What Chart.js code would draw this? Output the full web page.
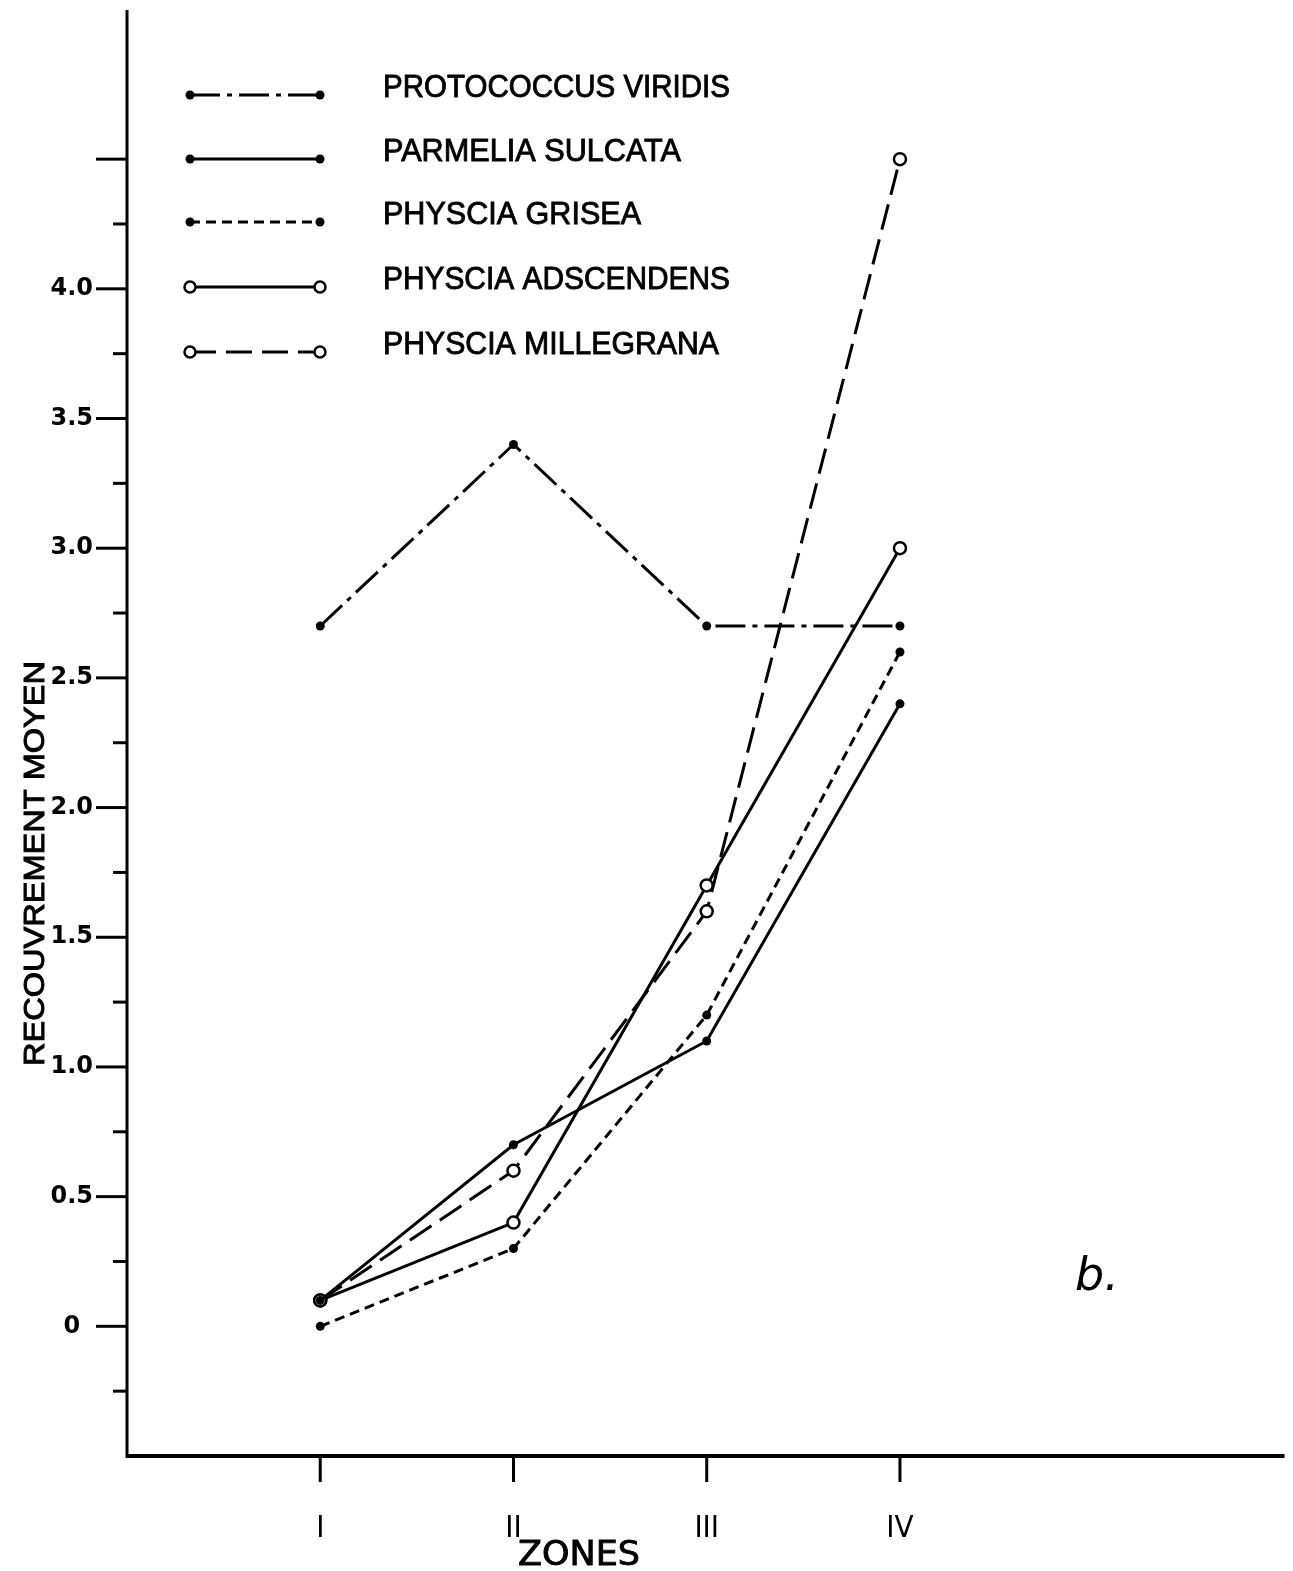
<!DOCTYPE html>
<html>
<head>
<meta charset="utf-8">
<script src="https://cdn.jsdelivr.net/npm/chart.js@4.4.0/dist/chart.umd.min.js"></script>
<style>
  html, body { margin: 0; padding: 0; background: #fff; }
  #wrap { width: 1293px; height: 1571px; position: relative; }
</style>
</head>
<body>
<div id="wrap"><canvas id="chart" width="1293" height="1571"></canvas></div>
<script>
// --- data ---
const zones = ['I', 'II', 'III', 'IV'];
const zonePos = [1, 2, 3, 4];
const protococcusViridis = [2.7, 3.4, 2.7, 2.7];
const parmeliaSulcata = [0.1, 0.7, 1.1, 2.4];
const physciaGrisea = [0.0, 0.3, 1.2, 2.6];
const physciaAdscendens = [0.1, 0.4, 1.7, 3.0];
const physciaMillegrana = [0.1, 0.6, 1.6, 4.5];
const seriesNames = ['PROTOCOCCUS VIRIDIS', 'PARMELIA SULCATA', 'PHYSCIA GRISEA', 'PHYSCIA ADSCENDENS', 'PHYSCIA MILLEGRANA'];
const yLabelValues = [0, 0.5, 1.0, 1.5, 2.0, 2.5, 3.0, 3.5, 4.0];
const yLabelText = ['0', '0.5', '1.0', '1.5', '2.0', '2.5', '3.0', '3.5', '4.0'];
const yTickMarks = [-0.25, 0, 0.25, 0.5, 0.75, 1, 1.25, 1.5, 1.75, 2, 2.25, 2.5, 2.75, 3, 3.25, 3.5, 3.75, 4, 4.25, 4.5];

// --- styles ---
const styles = [
  { dash: [30, 7, 5, 7], open: false },
  { dash: [], open: false },
  { dash: [10, 6], open: false },
  { dash: [], open: true },
  { dash: [26, 10], open: true }
];
const seriesValues = [protococcusViridis, parmeliaSulcata, physciaGrisea, physciaAdscendens, physciaMillegrana];

const makeDataset = (name, values, st) => ({
  label: name,
  data: zonePos.map((x, i) => ({ x, y: values[i] })),
  borderColor: '#000',
  borderWidth: 3,
  borderDash: st.dash,
  tension: 0,
  fill: false,
  pointStyle: 'circle',
  pointRadius: st.open ? 6 : 4.5,
  pointBorderWidth: st.open ? 2.5 : 0,
  pointBackgroundColor: st.open ? '#fff' : '#000',
  pointBorderColor: '#000'
});

const line = (ctx, x1, y1, x2, y2) => {
  ctx.beginPath(); ctx.moveTo(x1, y1); ctx.lineTo(x2, y2); ctx.stroke();
};

// text squeezed/stretched to the width it has in the figure, slightly thickened
const fitText = (ctx, text, x, y, width, thick) => {
  const w = ctx.measureText(text).width;
  ctx.save();
  ctx.translate(x, y);
  ctx.scale(width / w, 1);
  ctx.fillText(text, 0, 0);
  if (thick) {
    ctx.lineWidth = thick;
    ctx.setLineDash([]);
    ctx.strokeText(text, 0, 0);
  }
  ctx.restore();
};

const legendTextWidths = [347, 298, 258, 347, 336];
const legendRows = [95, 159, 222, 287, 352];

const decorPlugin = {
  id: 'decor',
  afterDraw(chart) {
    const { ctx, chartArea: { left, right, top, bottom }, scales: { x, y } } = chart;
    ctx.save();
    ctx.strokeStyle = '#000';
    ctx.fillStyle = '#000';
    ctx.setLineDash([]);

    // axes
    ctx.lineWidth = 3;
    line(ctx, left, top, left, bottom + 2);
    ctx.lineWidth = 4;
    line(ctx, left - 1, bottom, right, bottom);

    // y tick marks, long ones every 0.5
    ctx.lineWidth = 3;
    yTickMarks.forEach(v => {
      const py = y.getPixelForValue(v);
      const major = Math.abs(v * 2 - Math.round(v * 2)) < 1e-6;
      line(ctx, left - (major ? 31 : 14), py, left, py);
    });
    // x tick marks below the axis
    zonePos.forEach(v => {
      const px = x.getPixelForValue(v);
      line(ctx, px, bottom, px, bottom + 26);
    });

    // legend
    seriesNames.forEach((name, i) => {
      const st = styles[i];
      const ly = legendRows[i];
      ctx.lineWidth = 3;
      ctx.setLineDash(st.dash);
      line(ctx, 190, ly, 320, ly);
      ctx.setLineDash([]);
      [190, 320].forEach(px => {
        ctx.beginPath();
        if (st.open) {
          ctx.arc(px, ly, 5.5, 0, Math.PI * 2);
          ctx.fillStyle = '#fff'; ctx.fill();
          ctx.lineWidth = 2.5; ctx.stroke();
        } else {
          ctx.arc(px, ly, 4.5, 0, Math.PI * 2);
          ctx.fillStyle = '#000'; ctx.fill();
        }
      });
      ctx.fillStyle = '#000';
      ctx.font = '32px "Liberation Sans", Arial, sans-serif';
      ctx.textBaseline = 'alphabetic';
      ctx.textAlign = 'left';
      fitText(ctx, name, 383, ly + 2, legendTextWidths[i], 0.9);
    });

    // axis titles
    ctx.font = '33px "Liberation Sans Narrow", "DejaVu Sans Condensed", sans-serif';
    ctx.textBaseline = 'alphabetic';
    fitText(ctx, 'ZONES', 518, 1565, 122, 0.8);

    ctx.save();
    ctx.translate(44, 1066);
    ctx.rotate(-Math.PI / 2);
    ctx.font = '30px "Liberation Sans", Arial, sans-serif';
    fitText(ctx, 'RECOUVREMENT MOYEN', 0, 0, 405, 1);
    ctx.restore();

    // panel letter
    ctx.font = 'italic 46px "DejaVu Sans", sans-serif';
    ctx.fillText('b.', 1075, 1290);
    ctx.restore();
  }
};

const chart = new Chart(document.getElementById('chart').getContext('2d'), {
  type: 'line',
  data: {
    datasets: seriesNames.map((n, i) => makeDataset(n, seriesValues[i], styles[i]))
  },
  options: {
    responsive: false,
    animation: false,
    devicePixelRatio: 1,
    layout: { padding: { top: 10, right: 8, left: 0, bottom: 0 } },
    plugins: { legend: { display: false }, tooltip: { enabled: false } },
    scales: {
      x: {
        type: 'linear',
        min: 0,
        max: 5.99,
        grid: { display: false, drawTicks: false },
        border: { display: false },
        afterBuildTicks: scale => { scale.ticks = zonePos.map(v => ({ value: v })); },
        afterFit: scale => {
          scale.height = 115;
          scale.paddingLeft = 0; scale.paddingRight = 0;
        },
        ticks: {
          autoSkip: false,
          maxRotation: 0,
          padding: 54,
          color: '#000',
          font: { family: '"Liberation Sans Narrow", "DejaVu Sans Condensed", sans-serif', size: 31 },
          callback: v => zones[zonePos.indexOf(v)] ?? ''
        }
      },
      y: {
        type: 'linear',
        min: -0.5,
        max: 5.075,
        grid: { display: false, drawTicks: false },
        border: { display: false },
        afterBuildTicks: scale => { scale.ticks = yLabelValues.map(v => ({ value: v })); },
        afterFit: scale => {
          scale.width = 127;
          scale.paddingTop = 0; scale.paddingBottom = 0;
        },
        ticks: {
          autoSkip: false,
          crossAlign: 'center',
          padding: 34,
          color: '#000',
          font: { family: '"DejaVu Sans", sans-serif', size: 24, weight: 'bold' },
          callback: v => yLabelText[yLabelValues.indexOf(v)] ?? ''
        }
      }
    }
  },
  plugins: [decorPlugin]
});
</script>
</body>
</html>
